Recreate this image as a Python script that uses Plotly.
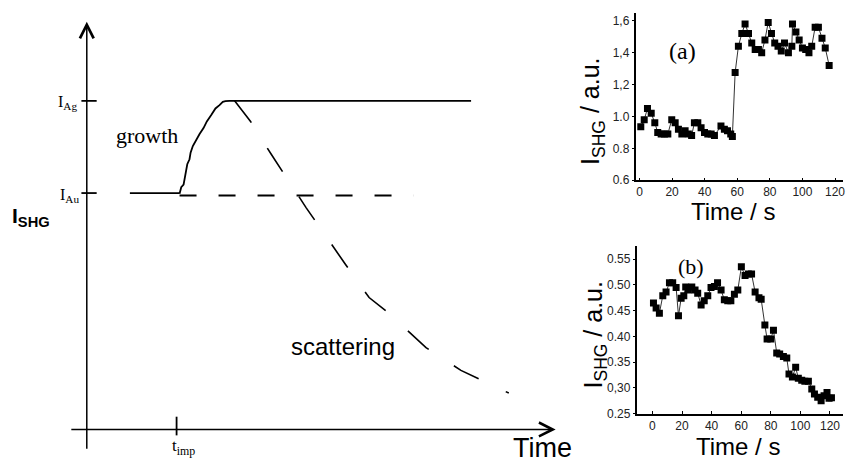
import plotly.graph_objects as go

# ---------------- data ----------------
# Schematic (left): time in units of t_imp, intensity in units of I_Au
I_AU = 1.0
I_AG = 1.39
T_IMP = 1.0
baseline_t = [0.48, 1.033]
baseline_I = [1.0, 1.0]
growth_t = [1.033, 1.052, 1.078, 1.089, 1.108, 1.119, 1.144, 1.156, 1.181, 1.219,
            1.256, 1.300, 1.337, 1.386, 1.433, 1.478, 1.515, 1.544, 1.589, 4.28]
growth_I = [0.997, 1.025, 1.036, 1.060, 1.087, 1.122, 1.143, 1.171, 1.199, 1.226,
            1.25, 1.275, 1.303, 1.330, 1.358, 1.372, 1.386, 1.389, 1.39, 1.39]
gold_t = [1.033, 3.64]
gold_I = [0.99, 0.99]
scat_t = [1.644, 1.822, 2.056, 2.444, 2.878, 3.144, 3.378, 3.778, 4.167, 4.70]
scat_I = [1.392, 1.304, 1.163, 0.9375, 0.70, 0.558, 0.4875, 0.346, 0.25, 0.154]

# Panel (a)
a_t = [0.8, 2.9, 4.9, 7.2, 9.4, 11.2, 13.3, 15.3, 17.4, 19.8, 21.9, 23.9, 26, 28, 30, 32,
       33.7, 35.8, 37.8, 39.9, 41.9, 44, 46, 50, 52.1, 54, 56, 57, 58.7, 60.7, 62.8, 64.8,
       66.9, 68.9, 71, 73, 75, 77, 79, 81, 83, 85, 87, 89, 91.4, 93.5, 93.9, 96, 98, 100,
       102, 104, 105.7, 107.8, 109.8, 112, 114, 116.4]
a_v = [0.935, 0.98, 1.05, 1.02, 0.96, 0.90, 0.89, 0.89, 0.89, 0.98, 0.96, 0.92, 0.89, 0.91,
       0.89, 0.88, 0.96, 0.96, 0.93, 0.90, 0.89, 0.89, 0.88, 0.94, 0.92, 0.91, 0.89, 0.875,
       1.275, 1.44, 1.52, 1.58, 1.52, 1.46, 1.42, 1.42, 1.40, 1.48, 1.59, 1.52, 1.46, 1.44,
       1.41, 1.46, 1.40, 1.44, 1.58, 1.53, 1.48, 1.43, 1.42, 1.40, 1.44, 1.56, 1.56, 1.49,
       1.43, 1.32]
a_yticks = [0.6, 0.8, 1.0, 1.2, 1.4, 1.6]
a_yticktext = ["0.6", "0.8", "1.0", "1,2", "1,4", "1,6"]

# Panel (b)
b_t = [0.7, 2.5, 4.7, 7, 9.2, 11.5, 13.7, 16, 17.6, 19.4, 21.2, 22.5, 24.3, 26.6, 28.8,
       30.6, 32.9, 35, 37.4, 39.6, 41.9, 44, 46.4, 48.6, 50.9, 53, 55.4, 57.7, 60.1, 62.6,
       64.8, 67, 69.4, 72, 73.5, 76, 77.5, 80, 81.8, 84, 86, 88.5, 90.8, 92.3, 94.6, 96.8,
       98.6, 100.9, 103, 105.4, 107.7, 109.5, 111.7, 114, 116, 118, 119.4, 121]
b_v = [0.465, 0.455, 0.445, 0.479, 0.486, 0.504, 0.504, 0.495, 0.44, 0.474, 0.479, 0.496,
       0.49, 0.496, 0.49, 0.484, 0.461, 0.469, 0.479, 0.495, 0.497, 0.504, 0.49, 0.471,
       0.469, 0.469, 0.482, 0.49, 0.535, 0.518, 0.521, 0.521, 0.486, 0.475, 0.472, 0.422,
       0.395, 0.395, 0.412, 0.368, 0.366, 0.361, 0.358, 0.327, 0.321, 0.34, 0.319, 0.315,
       0.313, 0.313, 0.298, 0.288, 0.282, 0.275, 0.285, 0.291, 0.28, 0.281]
b_yticks = [0.25, 0.30, 0.35, 0.40, 0.45, 0.50, 0.55]
b_yticktext = ["0.25", "0,30", "0.35", "0.40", "0.45", "0.50", "0.55"]
x_ticks = [0, 20, 40, 60, 80, 100, 120]

# ---------------- figure ----------------
W, H = 846, 467
SERIF = "Liberation Serif"
SANS = "Liberation Sans"
fig = go.Figure()

line_kw = dict(color="black", width=1.8)
fig.add_trace(go.Scatter(x=baseline_t, y=baseline_I, mode="lines", line=line_kw,
                         xaxis="x", yaxis="y", hoverinfo="skip"))
fig.add_trace(go.Scatter(x=growth_t, y=growth_I, mode="lines", line=line_kw,
                         xaxis="x", yaxis="y", hoverinfo="skip"))
fig.add_trace(go.Scatter(x=gold_t, y=gold_I, mode="lines",
                         line=dict(color="black", width=2, dash="17px,22px"),
                         xaxis="x", yaxis="y", hoverinfo="skip"))
fig.add_trace(go.Scatter(x=scat_t, y=scat_I, mode="lines",
                         line=dict(color="black", width=1.6, dash="28px,30px"),
                         xaxis="x", yaxis="y", hoverinfo="skip"))
# tick marks on schematic axes
fig.add_trace(go.Scatter(x=[T_IMP, T_IMP], y=[-0.025, 0.054], mode="lines", line=line_kw,
                         xaxis="x", yaxis="y", hoverinfo="skip"))
for lvl in (I_AU, I_AG):
    fig.add_trace(go.Scatter(x=[-0.06, 0.11], y=[lvl, lvl], mode="lines", line=line_kw,
                             xaxis="x", yaxis="y", hoverinfo="skip"))

mk = dict(symbol="square", size=7, color="black")
fig.add_trace(go.Scatter(x=a_t, y=a_v, mode="lines+markers", marker=mk,
                         line=dict(color="#333", width=1), xaxis="x2", yaxis="y2"))
fig.add_trace(go.Scatter(x=b_t, y=b_v, mode="lines+markers", marker=mk,
                         line=dict(color="#333", width=1), xaxis="x3", yaxis="y3"))

# schematic axis ranges (90 px per t unit, 240 px per I unit, origin at (87,436) px)
sx0, sx1 = -87 / 90, (600 - 87) / 90
sy0, sy1 = (436 - 467) / 240, 436 / 240

def px(x):
    return x / W

def py(y):
    return 1 - y / H

tick_font = dict(family=SANS, size=12, color="#222")
common = dict(showline=True, linecolor="black", linewidth=1.5, tickwidth=1.2,
              tickcolor="black", showgrid=False, zeroline=False, tickfont=tick_font,
              mirror=False, ticklabeloverflow="allow")
x_axis_kw = dict(ticks="inside", ticklen=3, **common)
y_axis_kw = dict(ticks="outside", ticklen=3, **common)

fig.update_layout(
    width=W, height=H, margin=dict(l=0, r=0, t=0, b=0),
    paper_bgcolor="white", plot_bgcolor="rgba(0,0,0,0)", showlegend=False,
    xaxis=dict(domain=[0, 600 / W], range=[sx0, sx1], visible=False),
    yaxis=dict(domain=[0, 1], range=[sy0, sy1], visible=False),
    xaxis2=dict(domain=[px(638), px(845)], range=[-1.84, 124.9], anchor="y2",
                tickvals=x_ticks, **x_axis_kw),
    yaxis2=dict(domain=[py(183), py(13)], range=[0.6, 1.65], anchor="x2",
                tickvals=a_yticks, ticktext=a_yticktext, **y_axis_kw),
    xaxis3=dict(domain=[px(639), px(845)], range=[-10.1, 128.8], anchor="y3",
                tickvals=x_ticks, **x_axis_kw),
    yaxis3=dict(domain=[py(420), py(250)], range=[0.25, 0.575], anchor="x3",
                tickvals=b_yticks, ticktext=b_yticktext, **y_axis_kw),
)

ann = []
# schematic axes with arrows
ann.append(dict(x=0, y=1.725, ax=0, ay=-0.0875, xref="x", yref="y", axref="x", ayref="y",
                text="", showarrow=True, arrowhead=5, arrowsize=1.8, arrowwidth=1.5,
                arrowcolor="black", standoff=0, startstandoff=0))
ann.append(dict(x=5.222, y=0, ax=-0.189, ay=0, xref="x", yref="y", axref="x", ayref="y",
                text="", showarrow=True, arrowhead=5, arrowsize=1.8, arrowwidth=1.5,
                arrowcolor="black", standoff=0, startstandoff=0))

def label(text, x, y, size, family, **kw):
    d = dict(text=text, x=px(x), y=py(y), xref="paper", yref="paper", showarrow=False,
             font=dict(family=family, size=size, color="black"),
             xanchor="center", yanchor="middle")
    d.update(kw)
    ann.append(d)

label("growth", 147, 138, 22, SERIF)
label("scattering", 344, 352, 24, SANS)
label("Time", 544, 455, 27, SANS)
label("<b>I<sub>SHG</sub></b>", 31, 220, 21, SANS)
label("I<sub>Ag</sub>", 68, 104, 16, SERIF)
label("I<sub>Au</sub>", 70, 198, 16, SERIF)
label("t<sub>imp</sub>", 184, 454, 17, SERIF)

# panel labels
label("(a)", 684, 52, 24, SERIF)
label("(b)", 693, 271, 22, SERIF)
label("I<sub>SHG</sub> / a.u.", 594, 113, 25, SANS, textangle=-90)
label("I<sub>SHG</sub> / a.u.", 596, 340, 25, SANS, textangle=-90)
label("Time / s", 735, 215, 24, SANS)
label("Time / s", 740, 453, 24, SANS)

fig.update_layout(annotations=ann)
fig.write_html("out.html")
